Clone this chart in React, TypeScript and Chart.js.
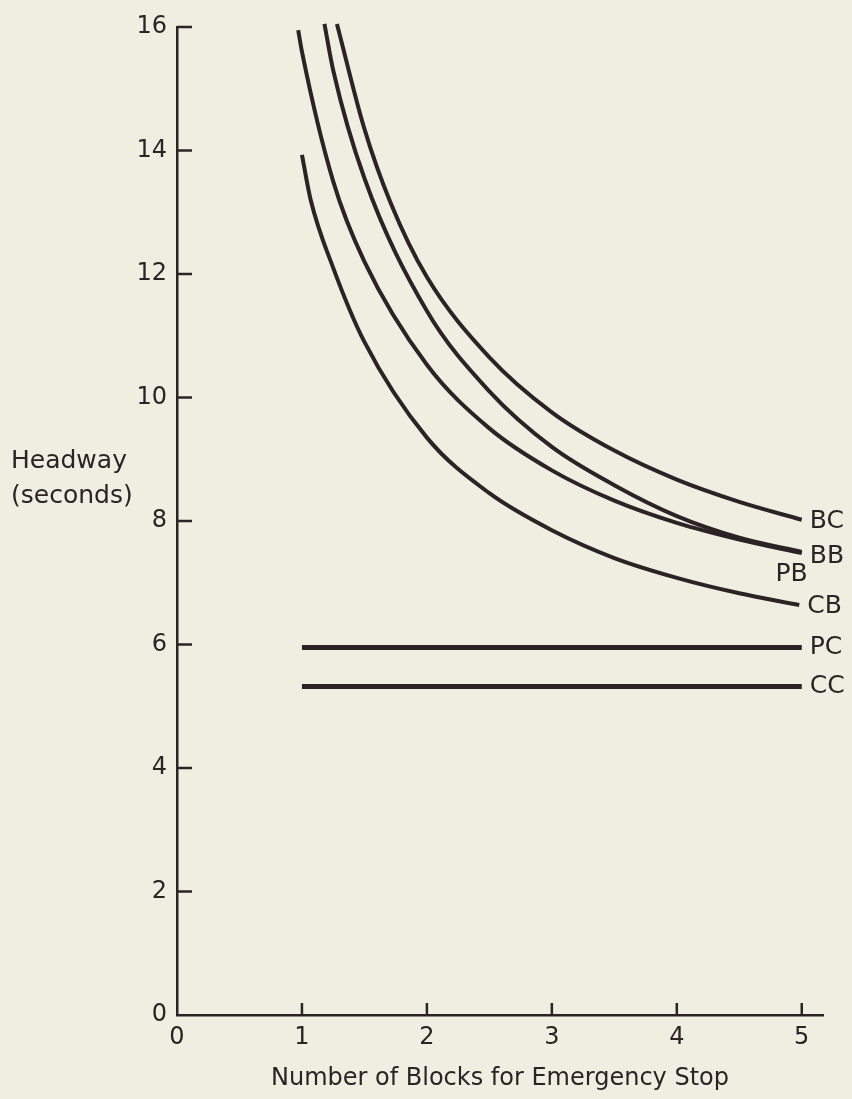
import React, { useEffect, useRef } from "react";
import { Chart, registerables } from "chart.js";

Chart.register(...registerables);

// ---- data ----
const xTickValues = [0, 1, 2, 3, 4, 5];
const yTickValues = [0, 2, 4, 6, 8, 10, 12, 14, 16];

const seriesNames = ["BC", "BB", "PB", "CB", "PC", "CC"];

const bcX = [1.28, 1.5, 1.71, 2, 2.5, 3, 3.5, 4, 4.5, 5];
const bcY = [16.05, 14.35, 13.15, 11.95, 10.65, 9.76, 9.14, 8.67, 8.31, 8.02];

const bbX = [1.18, 1.25, 1.5, 2, 2.5, 3, 3.5, 4, 4.5, 5];
const bbY = [16.05, 15.3, 13.55, 11.4, 10.1, 9.2, 8.58, 8.08, 7.73, 7.5];

const pbX = [0.97, 1, 1.25, 1.5, 2, 2.5, 3, 3.5, 4, 4.5, 5];
const pbY = [15.95, 15.6, 13.5, 12.2, 10.53, 9.5, 8.82, 8.33, 7.97, 7.7, 7.48];

const cbX = [1, 1.07, 1.25, 1.5, 2, 2.5, 3, 3.5, 4, 4.5, 4.98];
const cbY = [13.93, 13.2, 12.1, 10.9, 9.35, 8.45, 7.85, 7.4, 7.08, 6.83, 6.64];

const pcX = [1, 5];
const pcY = [5.95, 5.95];

const ccX = [1, 5];
const ccY = [5.32, 5.32];

const xTitle = "Number of Blocks for Emergency Stop";
const yTitleLines = ["Headway", "(seconds)"];

// ---- styling ----
const BG = "#f0eee1";
const INK = "#2b2326";
const FONT = "'DejaVu Sans', sans-serif";

const seriesXs = [bcX, bbX, pbX, cbX, pcX, ccX];
const seriesYs = [bcY, bbY, pbY, cbY, pcY, ccY];
const seriesWidths = [4, 4, 4, 4, 5, 5];
// label offsets in px relative to the last point of each series
const labelOffsets: Record<string, [number, number, CanvasTextAlign]> = {
  BC: [8, 2, "left"],
  BB: [8, 5, "left"],
  PB: [6, 21, "right"],
  CB: [8, 2, "left"],
  PC: [8, 0, "left"],
  CC: [8, 0, "left"],
};

const annotate = {
  id: "annotate",
  afterDraw(chart: any) {
    const ctx = chart.ctx;
    const xs = chart.scales.x;
    const ys = chart.scales.y;
    const area = chart.chartArea;
    ctx.save();
    ctx.strokeStyle = INK;
    ctx.lineWidth = 2.5;
    // inward ticks on y
    yTickValues.forEach((v) => {
      if (v === 0) return;
      const py = ys.getPixelForValue(v);
      ctx.beginPath();
      ctx.moveTo(area.left, py);
      ctx.lineTo(area.left + 15, py);
      ctx.stroke();
    });
    // inward ticks on x
    xTickValues.forEach((v) => {
      if (v === 0) return;
      const px = xs.getPixelForValue(v);
      ctx.beginPath();
      ctx.moveTo(px, area.bottom);
      ctx.lineTo(px, area.bottom - 12);
      ctx.stroke();
    });
    // series end labels
    ctx.fillStyle = INK;
    ctx.font = `25px ${FONT}`;
    ctx.textBaseline = "middle";
    seriesNames.forEach((name, i) => {
      const lx = seriesXs[i][seriesXs[i].length - 1];
      const ly = seriesYs[i][seriesYs[i].length - 1];
      const [dx, dy, align] = labelOffsets[name];
      ctx.textAlign = align;
      ctx.fillText(name, xs.getPixelForValue(lx) + dx, ys.getPixelForValue(ly) + dy);
    });
    // y title, horizontal
    ctx.textAlign = "left";
    ctx.font = `25px ${FONT}`;
    ctx.fillText(yTitleLines[0], 11, 461);
    ctx.fillText(yTitleLines[1], 11, 496);
    ctx.restore();
  },
};

export default function App() {
  const ref = useRef<HTMLCanvasElement | null>(null);
  useEffect(() => {
    if (!ref.current) return;
    const datasets = seriesNames.map((name, i) => ({
      label: name,
      data: seriesXs[i].map((x, j) => ({ x, y: seriesYs[i][j] })),
      borderColor: INK,
      backgroundColor: INK,
      borderWidth: seriesWidths[i],
      pointRadius: 0,
      cubicInterpolationMode: "monotone" as const,
      fill: false,
      clip: false as any,
    }));
    const chart = new Chart(ref.current, {
      type: "line",
      data: { datasets },
      options: {
        animation: false,
        responsive: false,
        maintainAspectRatio: false,
        events: [],
        layout: { padding: { top: 27, right: 29, left: 0, bottom: 0 } },
        plugins: {
          legend: { display: false },
          tooltip: { enabled: false },
          title: { display: false },
        },
        scales: {
          x: {
            type: "linear",
            min: 0,
            max: 5.17,
            afterBuildTicks: (s: any) => {
              s.ticks = xTickValues.map((v) => ({ value: v }));
            },
            afterFit: (s: any) => {
              s.height = 84;
            },
            grid: { display: false, drawTicks: false },
            border: { display: true, color: INK, width: 2.5 },
            ticks: {
              color: INK,
              font: { family: FONT, size: 24 },
              padding: 8,
              maxRotation: 0,
              autoSkip: false,
            },
            title: {
              display: true,
              text: xTitle,
              color: INK,
              font: { family: FONT, size: 24 },
              padding: { top: 0, bottom: 6 },
            },
          },
          y: {
            type: "linear",
            min: 0,
            max: 16,
            afterBuildTicks: (s: any) => {
              s.ticks = yTickValues.map((v) => ({ value: v }));
            },
            afterFit: (s: any) => {
              s.width = 177;
            },
            grid: { display: false, drawTicks: false },
            border: { display: true, color: INK, width: 2.5 },
            ticks: {
              color: INK,
              font: { family: FONT, size: 24 },
              padding: 10,
              autoSkip: false,
            },
          },
        },
      },
      plugins: [annotate],
    });
    return () => chart.destroy();
  }, []);
  return (
    <div
      style={{
        position: "fixed",
        left: 0,
        top: 0,
        width: 852,
        height: 1099,
        background: BG,
      }}
    >
      <canvas ref={ref} width={852} height={1099} style={{ display: "block" }} />
    </div>
  );
}
